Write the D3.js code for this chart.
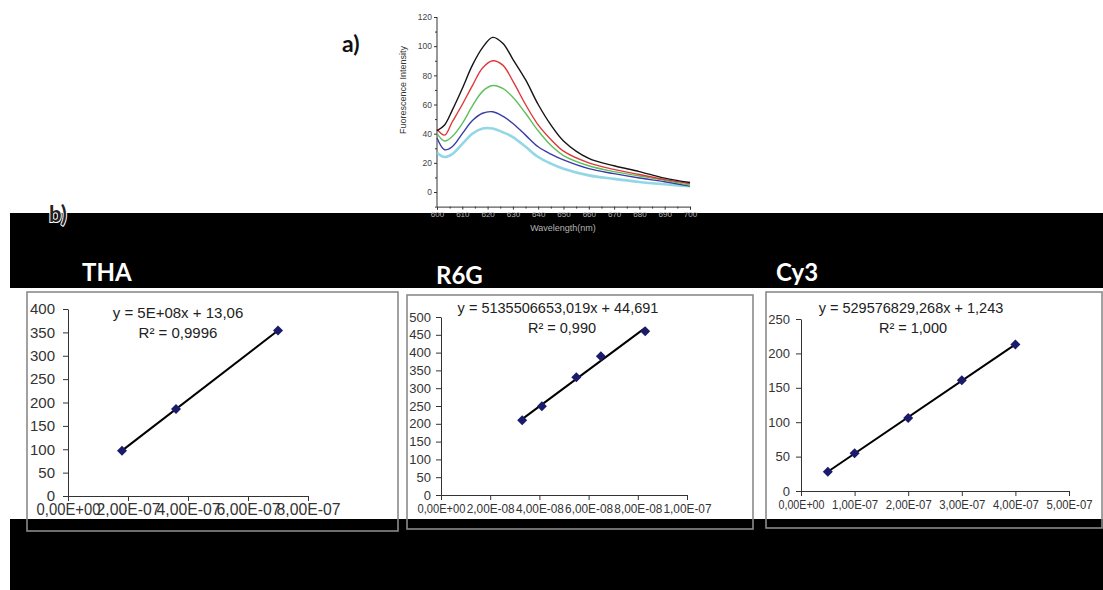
<!DOCTYPE html>
<html><head><meta charset="utf-8">
<script src="https://cdn.jsdelivr.net/npm/d3@7"></script>
<style>
html,body{margin:0;padding:0;background:#fff;}
svg{display:block;}
</style></head>
<body>
<svg id="c" width="1103" height="590"></svg>
<script>
// ---------- Data: panel a) fluorescence spectra ----------
const wavelengths = [600,603,606,610,614,618,622,626,630,635,640,645,650,660,670,680,690,700];
const spectrumBlack = [42,46,56,71,87,99,106,102,91,77,60,46,35,23,18,14,9.5,6.5];
const spectrumRed   = [43,39,48,60,73,85,90,87,76,60,46,36,28,20,15.5,12,8.5,5.7];
const spectrumGreen = [40,35,38,47,59,69,73,71,65,54,42,32,25,18,14,11,8,4.6];
const spectrumBlue  = [37,29,31,40,49,54,55,52,47,39,31,26,22,16,12.6,9.6,7,4];
const spectrumCyan  = [27,24,26,33,40,43.5,43.5,41,37.7,31,24,19.5,16,11.4,9,6.9,5.3,3.9];
const spectraColors = ["#151515","#e0383a","#5cc05c","#3b3ba8","#7fd0e0"];
const specYTicks = [0,20,40,60,80,100,120];
const specXTicks = [600,610,620,630,640,650,660,670,680,690,700];

// ---------- Data: panel b) calibration lines ----------
const thaX = [1.8e-7, 3.6e-7, 7.0e-7];
const thaY = [97, 186, 354];
const thaXTicks = [0,2e-7,4e-7,6e-7,8e-7];
const thaXLabels = ["0,00E+00","2,00E-07","4,00E-07","6,00E-07","8,00E-07"];
const thaYTicks = [0,50,100,150,200,250,300,350,400];
const thaEq = "y = 5E+08x + 13,06";
const thaR2 = "R² = 0,9996";

const r6gX = [3.3e-8, 4.1e-8, 5.5e-8, 6.5e-8, 8.3e-8];
const r6gY = [210, 249, 331, 390, 460];
const r6gXTicks = [0,2e-8,4e-8,6e-8,8e-8,1e-7];
const r6gXLabels = ["0,00E+00","2,00E-08","4,00E-08","6,00E-08","8,00E-08","1,00E-07"];
const r6gYTicks = [0,50,100,150,200,250,300,350,400,450,500];
const r6gEq = "y = 5135506653,019x  + 44,691";
const r6gR2 = "R² = 0,990";

const cy3X = [0.5e-7, 1.0e-7, 2.0e-7, 3.0e-7, 4.0e-7];
const cy3Y = [28, 55, 106, 161, 213];
const cy3XTicks = [0,1e-7,2e-7,3e-7,4e-7,5e-7];
const cy3XLabels = ["0,00E+00","1,00E-07","2,00E-07","3,00E-07","4,00E-07","5,00E-07"];
const cy3YTicks = [0,50,100,150,200,250];
const cy3Eq = "y = 529576829,268x  + 1,243";
const cy3R2 = "R² = 1,000";

const panelTitles = ["THA","R6G","Cy3"];

// ---------- Drawing ----------
const svg = d3.select("#c");
const FONT = "'Liberation Sans', Arial, sans-serif";

// black background band (top)
svg.append("rect").attr("x",10).attr("y",213).attr("width",1093).attr("height",75).attr("fill","#000");

// ----- panel a) -----
const ax = d3.scaleLinear().domain([600,700]).range([437,690]);
const ay = d3.scaleLinear().domain([-10,120]).range([206.6,17]);
const gA = svg.append("g");

const yAxA = d3.axisLeft(ay).tickValues(specYTicks).tickSize(3).tickPadding(2);
const gy = gA.append("g").attr("transform","translate(437,0)").call(yAxA);
gy.select(".domain").attr("d","M0,17V206.6").attr("stroke","#333");
gy.selectAll("text").attr("font-family",FONT).attr("font-size",8.5).attr("fill","#444");
gy.selectAll("line").attr("stroke","#333");
gA.append("g").attr("transform","translate(437,0)").call(d3.axisLeft(ay).tickValues([-10,10,30,50,70,90,110]).tickSize(2).tickFormat(""))
  .call(g=>{g.select(".domain").remove(); g.selectAll("line").attr("stroke","#333");});

const xAxA = d3.axisBottom(ax).tickValues(specXTicks).tickSize(3).tickPadding(2);
const gx = gA.append("g").attr("transform","translate(0,206.6)").call(xAxA);
gx.select(".domain").attr("stroke","#333");
gx.selectAll("line").attr("stroke","#333");
gx.selectAll("text").attr("font-family",FONT).attr("font-size",8).attr("fill","#b4b4b4");
gA.append("g").attr("transform","translate(0,206.6)").call(d3.axisBottom(ax).tickValues(d3.range(605,700,10)).tickSize(2).tickFormat(""))
  .call(g=>{g.select(".domain").remove(); g.selectAll("line").attr("stroke","#333");});

gA.append("text").attr("x",563).attr("y",231).attr("text-anchor","middle")
  .attr("font-family",FONT).attr("font-size",9).attr("fill","#b4b4b4").text("Wavelength(nm)");
gA.append("text").attr("transform","translate(406,90) rotate(-90)").attr("text-anchor","middle")
  .attr("font-family",FONT).attr("font-size",9).attr("fill","#333").text("Fuorescence Intensity");
gA.append("text").attr("x",342).attr("y",52).attr("font-family","Lato, 'Open Sans', sans-serif")
  .attr("font-weight","bold").attr("font-size",23).attr("fill","#111").text("a)");

const spectra = [spectrumCyan, spectrumBlue, spectrumGreen, spectrumRed, spectrumBlack];
const specCols = [spectraColors[4],spectraColors[3],spectraColors[2],spectraColors[1],spectraColors[0]];
const line = d3.line().x((d,i)=>ax(wavelengths[i])).y(d=>ay(d)).curve(d3.curveCatmullRom.alpha(0.5));
spectra.forEach((s,k)=>{
  gA.append("path").attr("d",line(s)).attr("fill","none").attr("stroke",specCols[k])
    .attr("stroke-width", k===0 ? 2.6 : 1.4).attr("stroke-opacity", k===0?0.85:1);
});

// "b)" label
svg.append("text").attr("x",49).attr("y",222).attr("font-family","Lato, 'Open Sans', sans-serif")
  .attr("font-weight","bold").attr("font-size",22).attr("fill","#222")
  .attr("stroke","#fff").attr("stroke-width",2).attr("paint-order","stroke").text("b)");

// panel titles
const titlePos = [[82,281],[436,284],[776,281]];
panelTitles.forEach((t,i)=>{
  svg.append("text").attr("x",titlePos[i][0]).attr("y",titlePos[i][1])
    .attr("font-family","Lato, 'Open Sans', sans-serif").attr("font-weight","bold")
    .attr("font-size",24).attr("fill","#fff").text(t);
});

// ----- panel b) calibration charts -----
function calib(cfg){
  const g = svg.append("g");
  const x = d3.scaleLinear().domain([0, d3.max(cfg.xTicks)]).range(cfg.xr);
  const y = d3.scaleLinear().domain([0, d3.max(cfg.yTicks)]).range(cfg.yr);
  const ya = g.append("g").attr("transform",`translate(${cfg.xr[0]},0)`)
    .call(d3.axisLeft(y).tickValues(cfg.yTicks).tickSize(5).tickSizeOuter(0).tickPadding(cfg.yPad));
  ya.selectAll("text").attr("font-family",FONT).attr("font-size",cfg.yFont).attr("fill","#333");
  ya.selectAll("line,path").attr("stroke","#333");
  const xa = g.append("g").attr("transform",`translate(0,${cfg.yr[0]})`)
    .call(d3.axisBottom(x).tickValues(cfg.xTicks).tickSize(5).tickSizeOuter(0).tickPadding(cfg.xPad)
      .tickFormat((d,i)=>cfg.xLabels[i]));
  xa.selectAll("text").attr("font-family",FONT).attr("font-size",cfg.xFont).attr("fill","#333")
    .attr("textLength",cfg.xLabW).attr("lengthAdjust","spacingAndGlyphs");
  xa.selectAll("line,path").attr("stroke","#333");
  // least-squares trendline
  const mx = d3.mean(cfg.xs), my = d3.mean(cfg.ys);
  let num=0, den=0;
  cfg.xs.forEach((v,i)=>{num+=(v-mx)*(cfg.ys[i]-my); den+=(v-mx)*(v-mx);});
  const slope = num/den, icpt = my - slope*mx;
  const x0 = d3.min(cfg.xs), x1 = d3.max(cfg.xs);
  g.append("line").attr("x1",x(x0)).attr("y1",y(slope*x0+icpt)).attr("x2",x(x1)).attr("y2",y(slope*x1+icpt))
    .attr("stroke","#000").attr("stroke-width",2);
  const sym = d3.symbol().type(d3.symbolDiamond2).size(64);
  g.selectAll("path.pt").data(cfg.xs).join("path").attr("class","pt")
    .attr("d",sym).attr("transform",(d,i)=>`translate(${x(d)},${y(cfg.ys[i])})`)
    .attr("fill","#1b1b6b");
  g.append("text").attr("x",cfg.eqPos[0]).attr("y",cfg.eqPos[1]).attr("text-anchor","middle")
    .attr("font-family",FONT).attr("font-size",cfg.eqFont).attr("fill","#222").text(cfg.eq);
  g.append("text").attr("x",cfg.r2Pos[0]).attr("y",cfg.r2Pos[1]).attr("text-anchor","middle")
    .attr("font-family",FONT).attr("font-size",cfg.eqFont).attr("fill","#222").text(cfg.r2);
}

calib({xs:thaX, ys:thaY, xTicks:thaXTicks, xLabels:thaXLabels, yTicks:thaYTicks,
  xr:[68,308], yr:[496,309], yFont:15, xFont:16, xLabW:64, yPad:8, xPad:3, eqFont:15,
  eq:thaEq, r2:thaR2, eqPos:[178,318], r2Pos:[178,338]});
calib({xs:r6gX, ys:r6gY, xTicks:r6gXTicks, xLabels:r6gXLabels, yTicks:r6gYTicks,
  xr:[441,687], yr:[495,317], yFont:13, xFont:12.5, xLabW:48, yPad:5, xPad:4, eqFont:14.5,
  eq:r6gEq, r2:r6gR2, eqPos:[558,313], r2Pos:[562,333]});
calib({xs:cy3X, ys:cy3Y, xTicks:cy3XTicks, xLabels:cy3XLabels, yTicks:cy3YTicks,
  xr:[801,1069], yr:[491,319], yFont:13, xFont:12.5, xLabW:46, yPad:6, xPad:4, eqFont:14.5,
  eq:cy3Eq, r2:cy3R2, eqPos:[911,313], r2Pos:[913,333]});

// bottom black band
svg.append("rect").attr("x",10).attr("y",519).attr("width",1093).attr("height",71).attr("fill","#000");

// panel frames
const frames = [[27,292,371,239],[407,295,346,234],[766,292,336,236]];
frames.forEach(f=>{
  svg.append("rect").attr("x",f[0]).attr("y",f[1]).attr("width",f[2]).attr("height",f[3])
    .attr("fill","none").attr("stroke","#8a8a8a").attr("stroke-width",1.6);
});
</script>
</body></html>
